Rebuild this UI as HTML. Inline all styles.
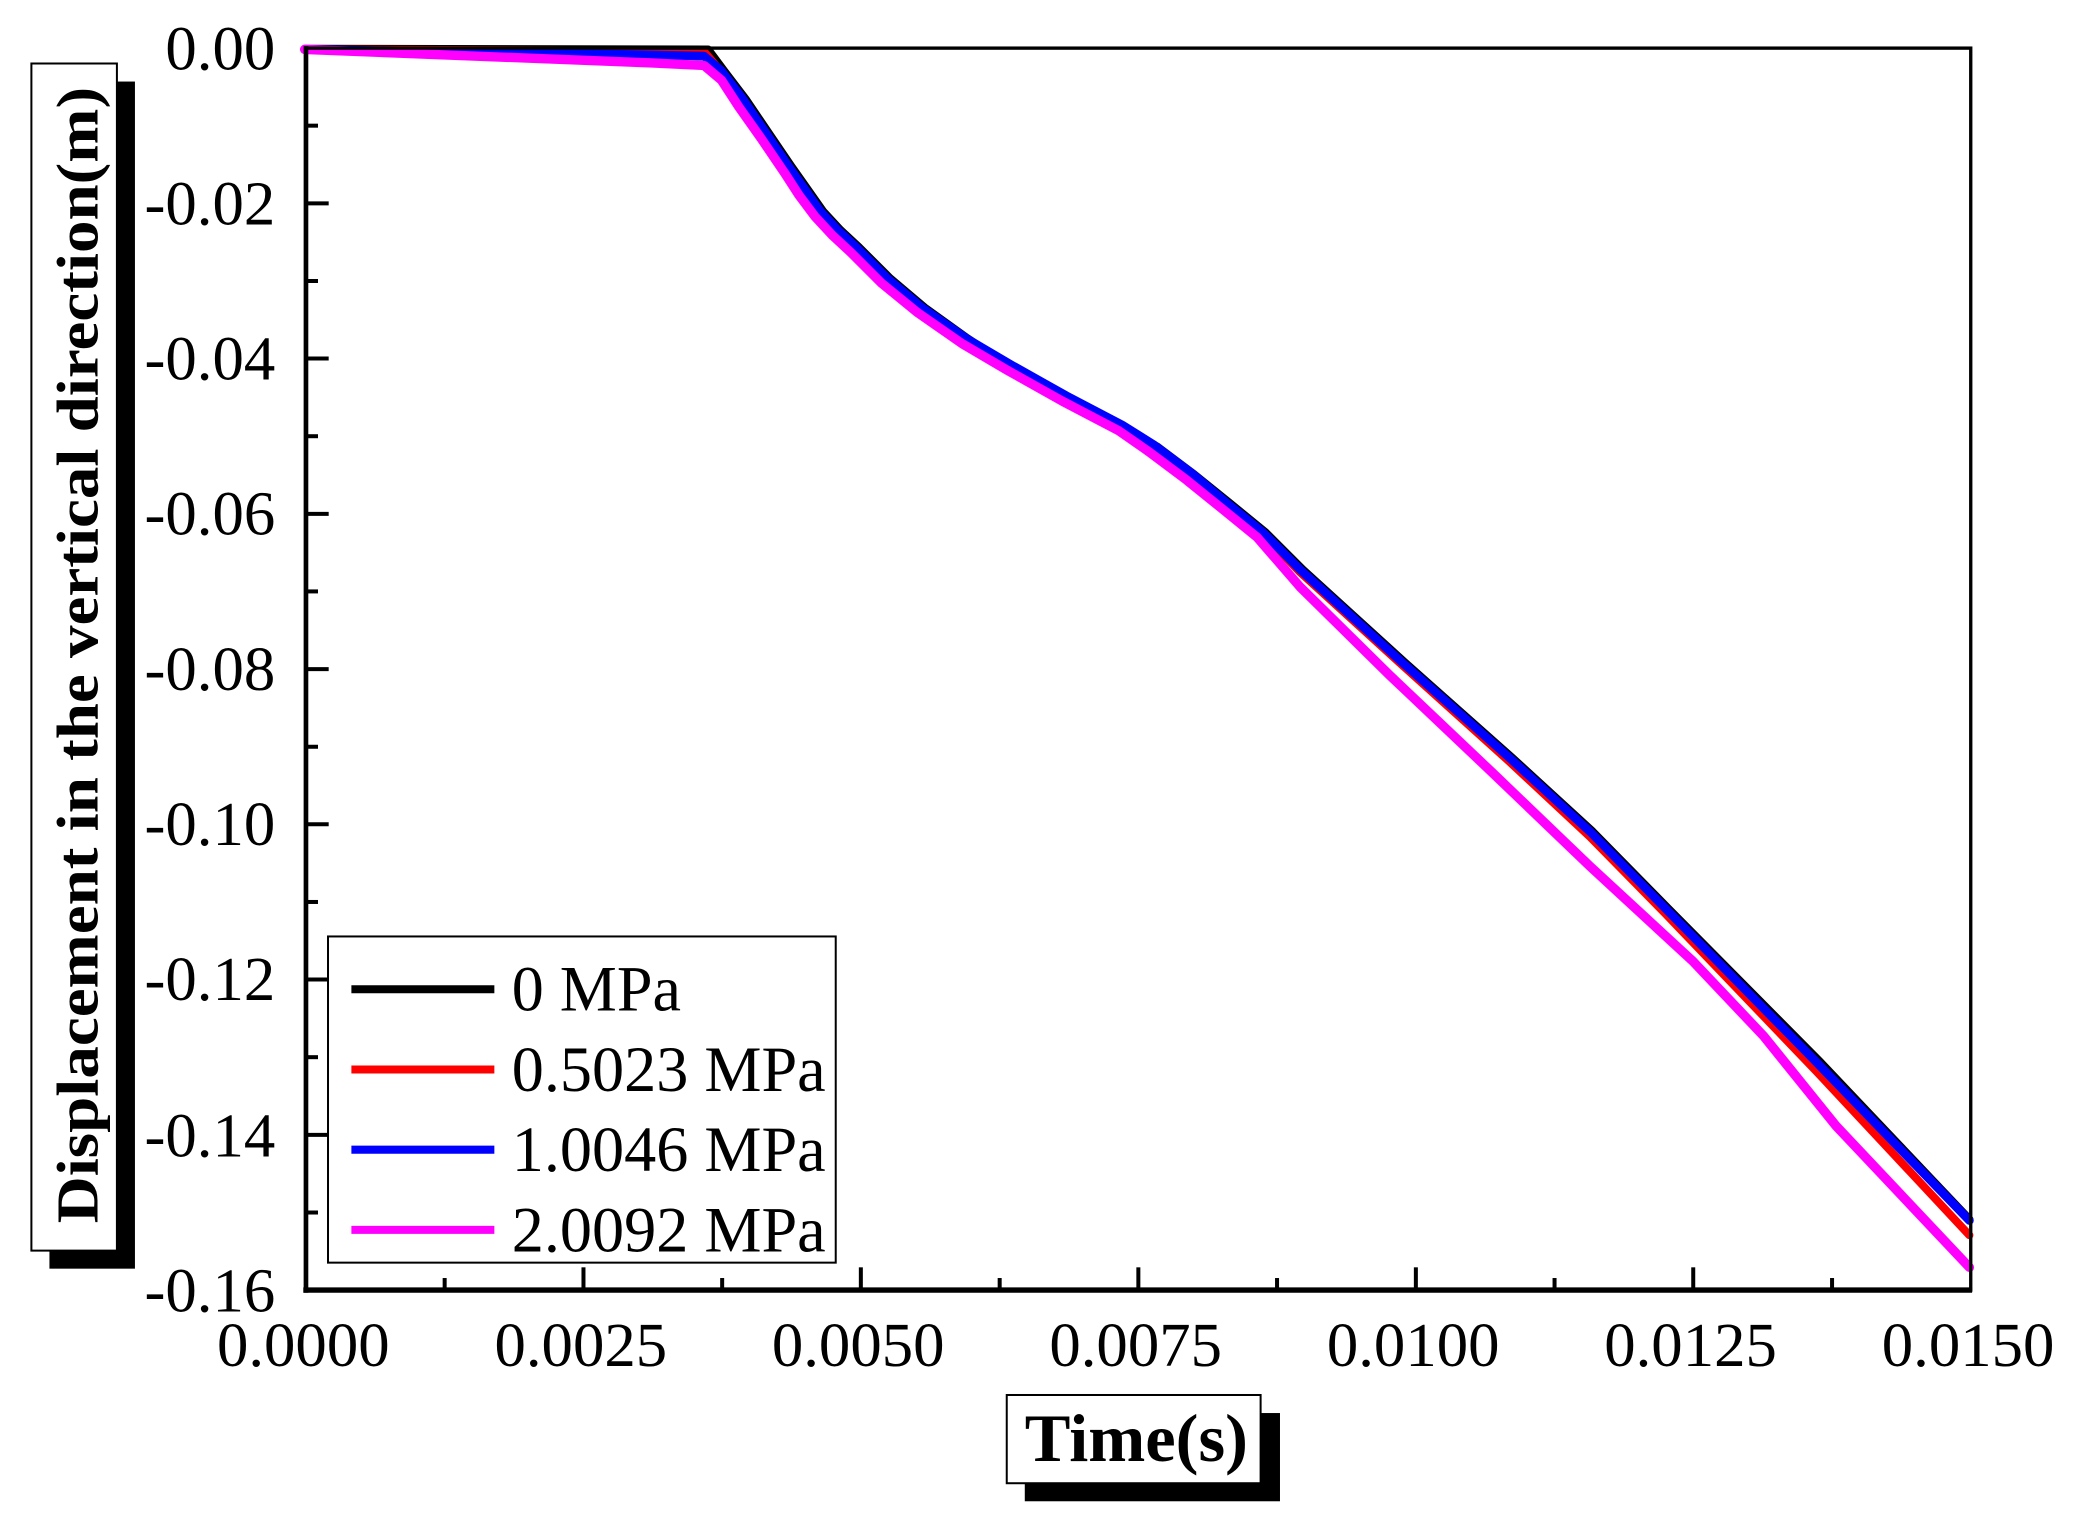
<!DOCTYPE html>
<html><head><meta charset="utf-8"><style>html,body{margin:0;padding:0;background:#fff}svg{display:block}</style></head>
<body>
<svg xmlns="http://www.w3.org/2000/svg" width="2095" height="1524" viewBox="0 0 1568 1140" preserveAspectRatio="none" font-family="'Liberation Serif', serif">
<rect width="1568" height="1140" fill="#fff"/>
<g fill="none" stroke-linejoin="round" stroke-linecap="round">
<polyline stroke="#000" stroke-width="6" points="228,36.5 530,37 542,53 558,74 575,99 592,124 604,141 616,158 629,172 643,185 666,208 692,230 724,253 757,275 798,299 840,320 866,334 894,355 920,376 947,398 975,426 1052,496 1132,567 1192,622 1249,680 1362,794 1474,912"/>
<polyline stroke="#f00" stroke-width="6" points="228,37 486,38 527,38.5 540,54 556,75 573,100 590,125 602,142 614,159 627,173 641,186 664,209 690,231 723,254 757,274 798,297 840,319 864,334 892,355 918,377 945,399 973,428 1050,498 1130,570 1190,626 1247,684 1360,802 1474,924"/>
<polyline stroke="#00f" stroke-width="6.5" points="228,37 486,41 527,42 540,53 556,74 573,99 590,124 602,141 614,158 627,172 641,185 664,208 690,230 723,253 757,273 798,296 840,318 864,333 892,354 918,376 945,398 973,426 1050,496 1130,567 1190,622 1247,680 1360,795 1474,913"/>
<polyline stroke="#f0f" stroke-width="7" points="228,37 486,47 527,49 540,60 553,80 570,104 587,129 598,146 610,162 623,176 637,189 660,212 687,234 720,257 754,277 795,300 837,322 860,338 888,359 914,380 941,402 973,439 1040,505 1117,578 1190,648 1267,719 1320,775 1374,842 1474,948"/>
</g>
<rect x="229" y="36" width="1246" height="929" fill="none" stroke="#000" stroke-width="2.5"/>
<line x1="229" y1="34.5" x2="229" y2="967" stroke="#000" stroke-width="3.5"/>
<line x1="227" y1="965" x2="1476" y2="965" stroke="#000" stroke-width="4"/>
<g stroke="#000" stroke-width="3">
<line x1="229" y1="152.1" x2="246" y2="152.1"/><line x1="229" y1="268.2" x2="246" y2="268.2"/><line x1="229" y1="384.4" x2="246" y2="384.4"/><line x1="229" y1="500.5" x2="246" y2="500.5"/><line x1="229" y1="616.6" x2="246" y2="616.6"/><line x1="229" y1="732.7" x2="246" y2="732.7"/><line x1="229" y1="848.9" x2="246" y2="848.9"/>
<line x1="229" y1="94" x2="238" y2="94"/><line x1="229" y1="210.2" x2="238" y2="210.2"/><line x1="229" y1="326.3" x2="238" y2="326.3"/><line x1="229" y1="442.4" x2="238" y2="442.4"/><line x1="229" y1="558.6" x2="238" y2="558.6"/><line x1="229" y1="674.7" x2="238" y2="674.7"/><line x1="229" y1="790.8" x2="238" y2="790.8"/><line x1="229" y1="907" x2="238" y2="907"/>
<line x1="436.7" y1="965" x2="436.7" y2="948"/><line x1="644.3" y1="965" x2="644.3" y2="948"/><line x1="852" y1="965" x2="852" y2="948"/><line x1="1059.7" y1="965" x2="1059.7" y2="948"/><line x1="1267.3" y1="965" x2="1267.3" y2="948"/>
<line x1="332.8" y1="965" x2="332.8" y2="956"/><line x1="540.5" y1="965" x2="540.5" y2="956"/><line x1="748.2" y1="965" x2="748.2" y2="956"/><line x1="955.8" y1="965" x2="955.8" y2="956"/><line x1="1163.5" y1="965" x2="1163.5" y2="956"/><line x1="1371.2" y1="965" x2="1371.2" y2="956"/>
</g>
<g font-size="47" text-anchor="end" fill="#000">
<text x="206" y="52">0.00</text><text x="206" y="168">-0.02</text><text x="206" y="284">-0.04</text><text x="206" y="400">-0.06</text><text x="206" y="516">-0.08</text><text x="206" y="632">-0.10</text><text x="206" y="748">-0.12</text><text x="206" y="865">-0.14</text><text x="206" y="981">-0.16</text>
</g>
<g font-size="47" text-anchor="middle" fill="#000">
<text x="227" y="1022">0.0000</text><text x="434.7" y="1022">0.0025</text><text x="642.3" y="1022">0.0050</text><text x="850" y="1022">0.0075</text><text x="1057.7" y="1022">0.0100</text><text x="1265.3" y="1022">0.0125</text><text x="1473" y="1022">0.0150</text>
</g>
<rect x="245.5" y="700.5" width="380" height="244" fill="#fff" stroke="#000" stroke-width="1.5"/>
<g stroke-width="6"><line x1="263" y1="740" x2="370" y2="740" stroke="#000"/><line x1="263" y1="800" x2="370" y2="800" stroke="#f00"/><line x1="263" y1="860" x2="370" y2="860" stroke="#00f"/><line x1="263" y1="920" x2="370" y2="920" stroke="#f0f"/></g>
<g font-size="48" fill="#000"><text x="383" y="756">0 MPa</text><text x="383" y="816" textLength="235" lengthAdjust="spacingAndGlyphs">0.5023 MPa</text><text x="383" y="876" textLength="235" lengthAdjust="spacingAndGlyphs">1.0046 MPa</text><text x="383" y="936" textLength="235" lengthAdjust="spacingAndGlyphs">2.0092 MPa</text></g>
<rect x="37" y="61" width="64" height="888" fill="#000"/>
<rect x="23.5" y="47.5" width="64" height="888" fill="#fff" stroke="#000" stroke-width="1.5"/>
<text transform="translate(73,915) rotate(-90)" font-size="44" font-weight="bold" textLength="850" lengthAdjust="spacingAndGlyphs">Displacement in the vertical direction(m)</text>
<rect x="767" y="1057" width="191" height="66" fill="#000"/>
<rect x="753.5" y="1043.5" width="190" height="66" fill="#fff" stroke="#000" stroke-width="1.5"/>
<text x="767" y="1093" font-size="51" font-weight="bold" textLength="167" lengthAdjust="spacingAndGlyphs">Time(s)</text>
</svg>
</body></html>
